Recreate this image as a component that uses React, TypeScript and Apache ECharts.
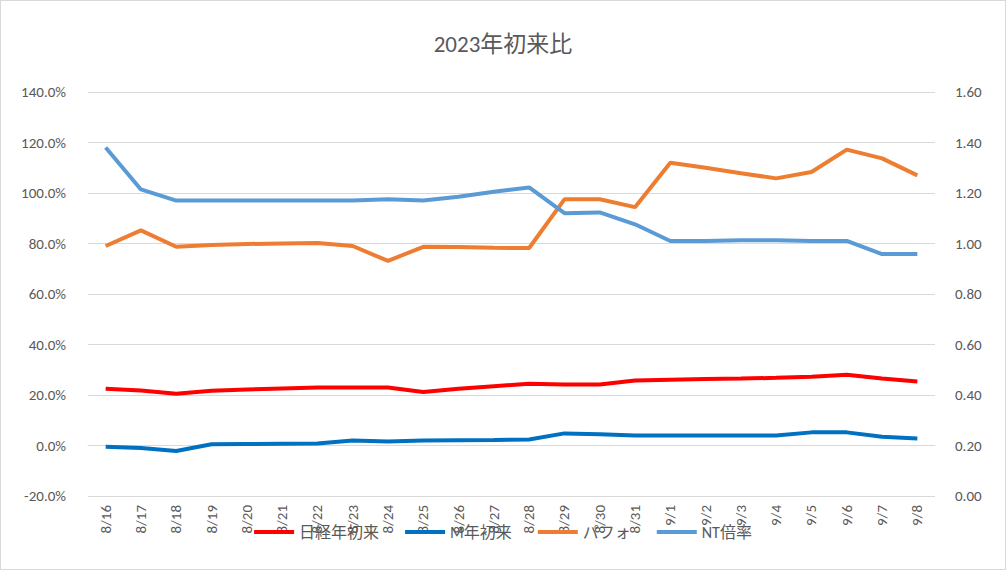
import { useEffect, useRef } from 'react';
import * as echarts from 'echarts';

const dates = [
  '8/16', '8/17', '8/18', '8/19', '8/20', '8/21', '8/22', '8/23', '8/24', '8/25', '8/26', '8/27',
  '8/28', '8/29', '8/30', '8/31', '9/1', '9/2', '9/3', '9/4', '9/5', '9/6', '9/7', '9/8',
];
const nikkei = [22.5, 21.8, 20.5, 21.7, 22.2, 22.6, 23.0, 23.0, 23.0, 21.2, 22.5, 23.5, 24.5, 24.2, 24.2, 25.7, 26.0, 26.3, 26.5, 26.8, 27.2, 28.0, 26.5, 25.3];
const mYear = [-0.5, -1.0, -2.2, 0.5, 0.6, 0.7, 0.8, 2.0, 1.6, 2.0, 2.1, 2.2, 2.4, 4.8, 4.5, 4.0, 4.0, 4.0, 4.0, 4.0, 5.2, 5.2, 3.5, 2.8];
const perf = [79.0, 85.2, 78.7, 79.4, 79.8, 80.0, 80.2, 79.0, 73.1, 78.7, 78.6, 78.3, 78.2, 97.5, 97.5, 94.4, 112.0, 110.0, 107.8, 105.8, 108.3, 117.2, 113.7, 107.0];
const ntRatio = [1.38, 1.214, 1.17, 1.17, 1.17, 1.17, 1.17, 1.17, 1.175, 1.17, 1.185, 1.205, 1.222, 1.12, 1.123, 1.076, 1.01, 1.01, 1.013, 1.013, 1.01, 1.01, 0.958, 0.958];

export default function App() {
  const ref = useRef<HTMLDivElement>(null);

  useEffect(() => {
    document.body.style.margin = '0';
    if (!ref.current) return;
    const chart = echarts.init(ref.current, undefined, { renderer: 'svg' });
    const font = "Calibri, 'Noto Sans CJK JP', 'Liberation Sans', sans-serif";
    const axisLabel = { color: '#595959', fontSize: 15, fontFamily: font };
    chart.setOption({
      animation: false,
      backgroundColor: '#fff',
      title: {
        text: '2023年初来比',
        left: 'center',
        top: 26,
        textStyle: { color: '#595959', fontSize: 23, fontWeight: 'normal', fontFamily: font },
      },
      legend: {
        bottom: 24,
        left: 'center',
        itemWidth: 40,
        itemHeight: 4,
        itemGap: 26,
        icon: 'rect',
        textStyle: { color: '#595959', fontSize: 16, fontFamily: font },
      },
      grid: { left: 87, right: 70, top: 91, bottom: 73 },
      xAxis: {
        type: 'category',
        data: dates,
        axisLabel: { ...axisLabel, rotate: 90, interval: 0, margin: 9 },
        axisTick: { show: false },
        axisLine: { onZero: true, lineStyle: { color: '#d9d9d9' } },
      },
      yAxis: [
        {
          type: 'value',
          min: -20,
          max: 140,
          interval: 20,
          axisLabel: { ...axisLabel, formatter: (v: number) => v.toFixed(1) + '%', margin: 22 },
          splitLine: { lineStyle: { color: '#d9d9d9' } },
        },
        {
          type: 'value',
          min: 0,
          max: 1.6,
          interval: 0.2,
          axisLabel: { ...axisLabel, formatter: (v: number) => v.toFixed(2), margin: 20 },
          splitLine: { show: false },
        },
      ],
      series: [
        { name: '日経年初来', type: 'line', data: nikkei, color: '#ff0000' },
        { name: 'M年初来', type: 'line', data: mYear, color: '#0070c0' },
        { name: 'パフォ', type: 'line', data: perf, color: '#ed7d31' },
        { name: 'NT倍率', type: 'line', data: ntRatio, yAxisIndex: 1, color: '#5b9bd5' },
      ].map((s) => ({ ...s, symbol: 'none', lineStyle: { width: 4 } })),
    });
    return () => chart.dispose();
  }, []);

  return (
    <div style={{ width: 1006, height: 570, boxSizing: 'border-box', border: '1px solid #d9d9d9' }}>
      <div ref={ref} style={{ width: 1004, height: 568 }} />
    </div>
  );
}
